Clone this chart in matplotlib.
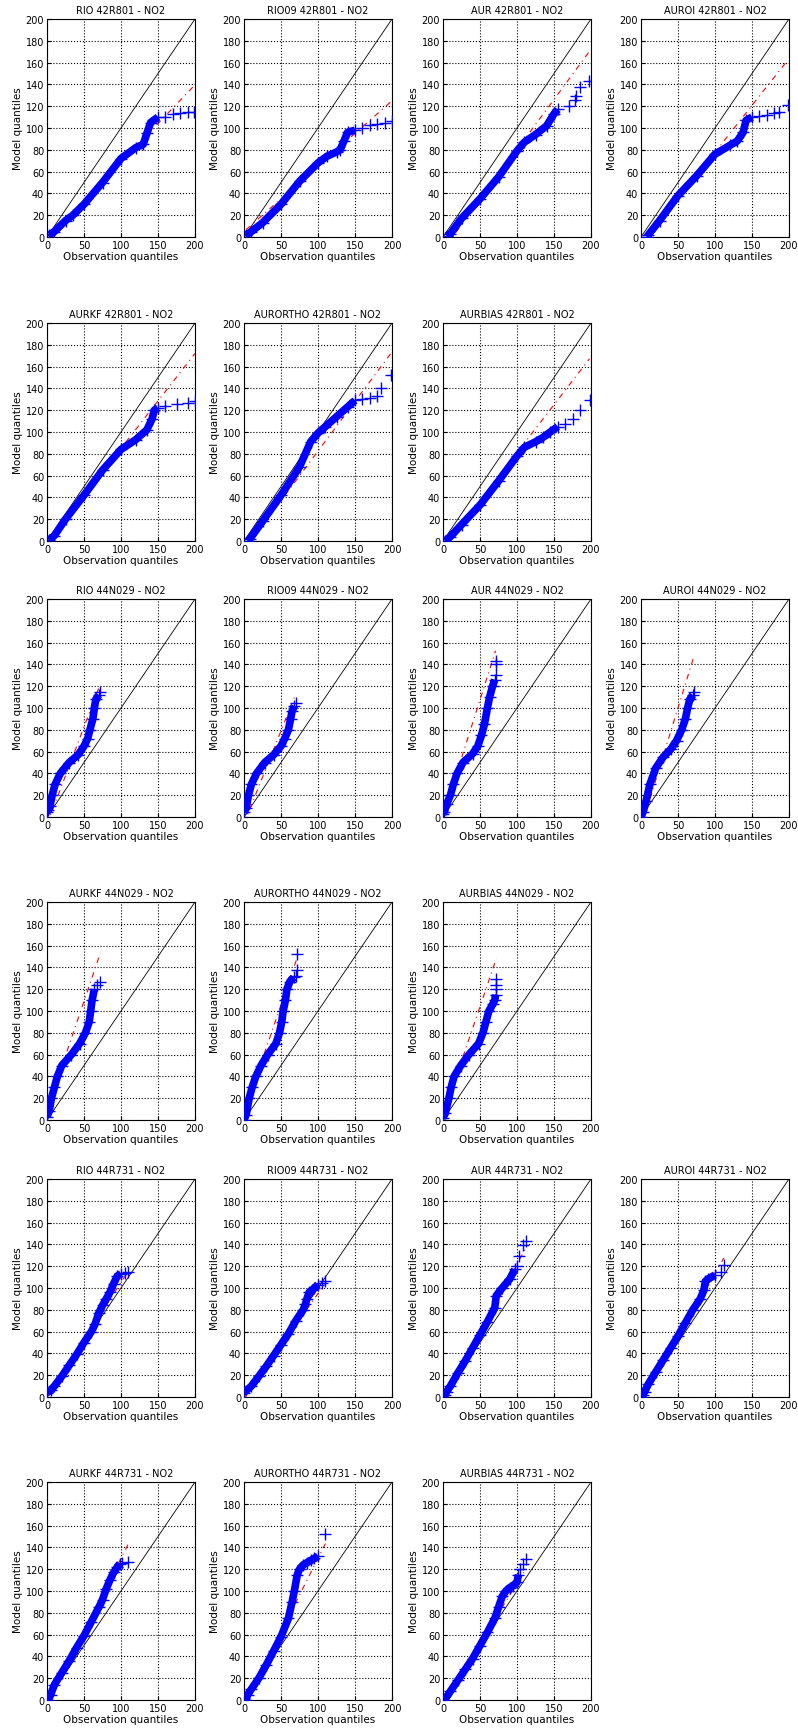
"""Q-Q plots of modelled vs observed NO2 at three stations for several
interpolation methods (RIO, RIO09, AUR, AUROI, AURKF, AURORTHO, AURBIAS)."""
import matplotlib
matplotlib.use("Agg")
import matplotlib.pyplot as plt

# -----------------------------------------------------------------------------
# Data
# -----------------------------------------------------------------------------
titles = [
    "RIO 42R801 - NO2", "RIO09 42R801 - NO2", "AUR 42R801 - NO2", "AUROI 42R801 - NO2",
    "AURKF 42R801 - NO2", "AURORTHO 42R801 - NO2", "AURBIAS 42R801 - NO2",
    "RIO 44N029 - NO2", "RIO09 44N029 - NO2", "AUR 44N029 - NO2", "AUROI 44N029 - NO2",
    "AURKF 44N029 - NO2", "AURORTHO 44N029 - NO2", "AURBIAS 44N029 - NO2",
    "RIO 44R731 - NO2", "RIO09 44R731 - NO2", "AUR 44R731 - NO2", "AUROI 44R731 - NO2",
    "AURKF 44R731 - NO2", "AURORTHO 44R731 - NO2", "AURBIAS 44R731 - NO2",
]

# observation quantiles
obs_q = [
    [3, 10, 25, 35, 50, 75, 100, 120, 130, 135, 140, 150, 160, 170, 180, 190, 198],
    [3, 10, 25, 50, 75, 100, 112, 125, 130, 135, 140, 150, 160, 170, 180, 190, 200],
    [5, 10, 25, 50, 75, 100, 110, 125, 140, 150, 155, 170, 178, 180, 185, 197],
    [8, 10, 25, 50, 75, 100, 120, 130, 138, 142, 150, 160, 170, 180, 186, 198],
    [3, 10, 25, 50, 75, 100, 120, 135, 142, 145, 150, 160, 175, 190, 200],
    [5, 8, 25, 50, 75, 90, 100, 110, 125, 140, 150, 160, 170, 180, 185, 198],
    [3, 10, 25, 50, 75, 100, 110, 125, 135, 145, 155, 165, 175, 185, 198],
    [0, 2, 4, 7, 11, 18, 30, 42, 50, 55, 58, 62, 64, 66, 70, 72],
    [0, 3, 6, 10, 17, 28, 40, 50, 55, 60, 63, 65, 68, 70],
    [0, 2, 5, 10, 14, 19, 27, 40, 47, 52, 56, 60, 63, 67, 70, 71, 71, 71],
    [0, 3, 7, 12, 20, 30, 40, 48, 55, 60, 63, 66, 70, 72],
    [0, 3, 6, 10, 14, 20, 33, 44, 52, 57, 59, 61, 64, 68, 72],
    [0, 3, 7, 11, 16, 23, 32, 43, 48, 51, 53, 56, 58, 62, 67, 70, 71, 72],
    [0, 3, 8, 11, 15, 24, 35, 48, 54, 58, 62, 67, 70, 71, 71, 71, 72],
    [0, 5, 10, 20, 30, 40, 50, 60, 65, 70, 75, 80, 85, 90, 95, 100, 105, 110],
    [0, 10, 20, 30, 40, 50, 60, 70, 80, 83, 85, 88, 92, 95, 100, 105, 110],
    [0, 3, 5, 10, 20, 30, 40, 50, 60, 70, 72, 80, 90, 97, 100, 103, 108, 112],
    [0, 3, 5, 10, 20, 30, 40, 50, 60, 70, 80, 85, 87, 90, 100, 108, 112],
    [2, 5, 10, 20, 30, 40, 50, 60, 70, 75, 80, 85, 90, 95, 98, 102, 110],
    [3, 5, 10, 20, 30, 40, 50, 60, 65, 68, 72, 75, 80, 85, 90, 95, 100, 110],
    [2, 10, 20, 30, 40, 50, 60, 70, 75, 80, 85, 90, 95, 100, 102, 104, 108, 112],
]

# model quantiles
mod_q = [
    [2, 5, 15, 20, 30, 50, 72, 82, 85, 95, 105, 110, 110, 113, 114, 115, 115],
    [2, 5, 13, 30, 51, 68, 74, 78, 80, 88, 96, 98, 100, 103, 104, 105, 106],
    [1, 3, 17, 35, 55, 79, 87, 94, 102, 113, 117, 120, 126, 129, 138, 143],
    [0, 2, 15, 38, 56, 76, 84, 88, 96, 107, 110, 111, 112, 114, 115, 121],
    [1, 5, 20, 42, 65, 84, 93, 102, 112, 120, 122, 124, 126, 127, 128],
    [0, 2, 18, 42, 68, 91, 99, 105, 114, 123, 129, 130, 131, 133, 140, 152],
    [0, 4, 15, 33, 55, 78, 86, 91, 95, 100, 105, 107, 112, 120, 129],
    [5, 6, 10, 20, 30, 40, 50, 57, 65, 72, 80, 90, 100, 108, 112, 115],
    [5, 8, 20, 30, 40, 50, 57, 65, 72, 80, 90, 97, 102, 105],
    [3, 5, 12, 20, 30, 40, 50, 58, 65, 75, 85, 100, 110, 120, 126, 130, 140, 143],
    [0, 5, 15, 30, 45, 55, 62, 70, 80, 90, 100, 108, 112, 115],
    [3, 8, 20, 30, 40, 50, 60, 70, 80, 90, 100, 110, 120, 124, 127],
    [0, 5, 20, 30, 40, 50, 60, 70, 80, 90, 100, 110, 120, 127, 131, 132, 138, 152],
    [2, 6, 20, 30, 40, 50, 60, 70, 80, 90, 100, 106, 110, 115, 120, 124, 129],
    [4, 6, 10, 19, 29, 39, 50, 60, 67, 77, 84, 90, 96, 104, 111, 113, 114, 115],
    [4, 10, 19, 28, 38, 48, 58, 70, 80, 85, 90, 96, 98, 100, 103, 105, 106],
    [2, 2, 5, 10, 22, 33, 45, 57, 69, 82, 93, 100, 108, 117, 120, 129, 139, 143],
    [0, 2, 5, 12, 23, 34, 45, 56, 68, 80, 90, 98, 106, 108, 112, 115, 121],
    [0, 5, 14, 25, 36, 48, 59, 72, 85, 92, 102, 110, 117, 122, 125, 126, 127],
    [0, 5, 10, 20, 32, 45, 58, 75, 90, 100, 115, 120, 124, 126, 128, 130, 132, 152],
    [0, 8, 18, 28, 38, 50, 62, 75, 85, 95, 100, 103, 105, 108, 115, 120, 125, 129],
]

# number of sparse upper-tail quantiles in each panel
n_tail = [6, 6, 6, 6, 5, 6, 5, 2, 2, 4, 2, 3, 4, 4, 3, 3, 5, 3, 3, 2, 4]

# robust (quartile) fit line: model = slope * obs + intercept
fit_slope = [0.71, 0.60, 0.92, 0.86, 0.87, 0.91, 0.88,
             1.79, 1.70, 2.14, 2.20, 2.00, 1.98, 2.00,
             1.05, 0.97, 1.20, 1.12, 1.35, 1.35, 1.10]
fit_icpt = [-2.4, 5.0, -11.8, -8.3, -2.0, -8.5, -7.0,
            -6.9, -6.0, 0.5, -10.0, 9.0, 6.6, 4.0,
            0.0, -2.0, 2.0, 2.0, -5.0, -5.0, -3.0]

panels_per_row = [4, 3, 4, 3, 4, 3]

# -----------------------------------------------------------------------------
# Layout (pixels of the 798 x 1731 output)
# -----------------------------------------------------------------------------
W, H = 798, 1731
row_top = [20, 324, 600, 903, 1180, 1483]
col_left = [47, 244, 443, 641]
ax_w, ax_h = 148, 218

plt.rcParams["font.family"] = ["DejaVu Sans"]
plt.rcParams["font.size"] = 7

fig = plt.figure(figsize=(W / 100, H / 100), dpi=100)

k = 0
for r, n in enumerate(panels_per_row):
    for c in range(n):
        ax = fig.add_axes([col_left[c] / W, 1 - (row_top[r] + ax_h) / H,
                           ax_w / W, ax_h / H])
        x, y = obs_q[k], mod_q[k]
        t = n_tail[k]

        ax.plot([0, 200], [0, 200], color="black", lw=0.6, zorder=2)
        xs = [min(x), max(x)]
        ax.plot(xs, [fit_slope[k] * v + fit_icpt[k] for v in xs],
                color="red", lw=0.8, ls=(0, (5, 4, 1, 4)), zorder=3)
        # dense body of the distribution, then the sparse upper tail
        ax.plot(x[:len(x) - t + 1], y[:len(y) - t + 1], color="blue",
                lw=5.5, solid_capstyle="butt", zorder=4)
        ax.plot(x, y, "+", color="blue", ms=8, mew=1, zorder=5)

        ax.set_xlim(0, 200)
        ax.set_ylim(0, 200)
        ax.set_xticks(range(0, 201, 50))
        ax.set_yticks(range(0, 201, 20))
        ax.grid(True, color="black", ls=":", lw=0.8)
        ax.set_axisbelow(True)
        ax.tick_params(direction="in", length=3, pad=2, labelsize=7)
        for s in ax.spines.values():
            s.set_color("black")
            s.set_linewidth(0.8)
        ax.set_title(titles[k], fontsize=7, pad=4)
        ax.set_xlabel("Observation quantiles", fontsize=7.5, labelpad=1)
        ax.set_ylabel("Model quantiles", fontsize=7.5, labelpad=2)
        k += 1

fig.savefig("out.png", dpi=100)
